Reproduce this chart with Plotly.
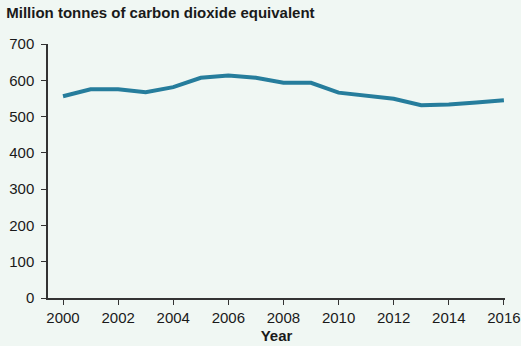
import plotly.graph_objects as go

years = list(range(2000, 2017))
emissions = [556, 575, 575, 567, 581, 607, 613, 607, 593, 593, 566, 558, 549, 531, 533, 539, 545]
x_ticks = list(range(2000, 2017, 2))
y_ticks = [0, 100, 200, 300, 400, 500, 600, 700]

bg = "#f0f7f3"
fig = go.Figure()
fig.add_trace(go.Scatter(x=years, y=emissions, mode="lines",
                         line=dict(color="#267d9c", width=4), hoverinfo="x+y"))

fig.update_layout(
    width=521, height=346,
    paper_bgcolor=bg, plot_bgcolor=bg,
    margin=dict(l=48, r=16, t=44, b=48),
    showlegend=False,
    font=dict(family="Liberation Sans, Arial, sans-serif", size=15, color="#1a1a1a"),
    title=dict(text="<b>Million tonnes of carbon dioxide equivalent</b>",
               x=0.012, xanchor="left", y=0.962, yanchor="middle",
               font=dict(size=15, color="#1a1a1a")),
)
fig.update_xaxes(range=[1999.455, 2016.04], tickvals=x_ticks, automargin=False,
                 showgrid=False, zeroline=False, showline=True,
                 linecolor="#333", linewidth=1.5, ticks="outside",
                 ticklen=5, tickcolor="#333", ticklabelstandoff=0,
                 title=dict(text="<b>Year</b>", standoff=6, font=dict(size=15)))
fig.update_yaxes(range=[0, 700], tickvals=y_ticks, automargin=False,
                 showgrid=False, zeroline=False, showline=True,
                 linecolor="#333", linewidth=1.5, ticks="outside",
                 ticklen=5, tickcolor="#333", ticklabelstandoff=4)

fig.write_html("out.html", config={"displayModeBar": False},
               post_script="document.body.style.margin='0';")
